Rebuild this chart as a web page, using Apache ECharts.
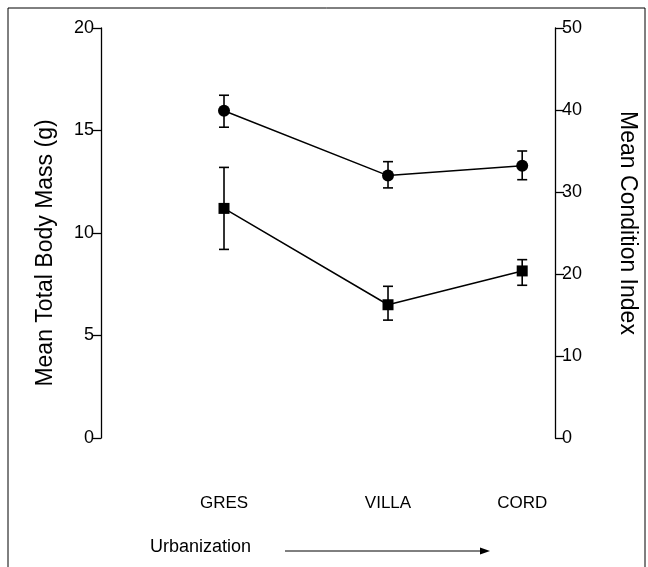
<!DOCTYPE html>
<html>
<head>
    <meta charset="UTF-8">
    <title></title>
    <style type="text/css">
        body { margin: 0; background: #fff; }
    </style>
</head>
<body>
<div id='mychart' style="width: 648px;height:567px;"></div>
<script src='https://cdn.jsdelivr.net/npm/echarts@6/dist/echarts.min.js'></script>
<script>
    // sites along the urbanization gradient
    var sites = ['GRES', 'VILLA', 'CORD'];
    var sitePos = [1, 2.1, 3];

    // mean total body mass (g), with error bar ends
    var massMean = [11.2, 6.5, 8.15];
    var massLow = [9.2, 5.75, 7.45];
    var massHigh = [13.2, 7.4, 8.7];

    // mean condition index, with error bar ends
    var condMean = [39.9, 32.0, 33.2];
    var condLow = [37.9, 30.5, 31.5];
    var condHigh = [41.8, 33.7, 35.0];

    var font = 'Liberation Sans, Arial, sans-serif';

    function pts(means) {
        var res = [];
        for (var i = 0; i < sites.length; i++) res.push([sitePos[i], means[i]]);
        return res;
    }
    function bars(low, high) {
        var res = [];
        for (var i = 0; i < sites.length; i++) res.push([sitePos[i], low[i], high[i]]);
        return res;
    }

    // vertical error bar with small caps
    function renderBar(params, api) {
        var top = api.coord([api.value(0), api.value(2)]);
        var bot = api.coord([api.value(0), api.value(1)]);
        var w = 5;
        var st = {stroke: '#000', lineWidth: 1.6};
        return {
            type: 'group',
            children: [
                {type: 'line', shape: {x1: top[0], y1: top[1], x2: bot[0], y2: bot[1]}, style: st},
                {type: 'line', shape: {x1: top[0] - w, y1: top[1], x2: top[0] + w, y2: top[1]}, style: st},
                {type: 'line', shape: {x1: bot[0] - w, y1: bot[1], x2: bot[0] + w, y2: bot[1]}, style: st}
            ]
        };
    }

    var myChart = echarts.init(document.getElementById('mychart'));

    var yBase = {
        type: 'value',
        splitLine: {show: false},
        axisLine: {show: true, lineStyle: {color: '#000', width: 1.3}},
        axisTick: {show: true, inside: false, length: 9, lineStyle: {color: '#000', width: 1.3}},
        axisLabel: {color: '#000', fontSize: 18, fontFamily: font, margin: 7},
        nameLocation: 'middle',
        nameTextStyle: {color: '#000', fontSize: 23, fontFamily: font}
    };

    var option = {
        animation: false,
        grid: {left: 101, right: 93, top: 28, bottom: 129},
        xAxis: {
            type: 'value',
            min: 0.175,
            max: 3.22,
            axisLine: {show: false},
            axisTick: {show: false},
            splitLine: {show: false},
            axisLabel: {
                customValues: sitePos,
                color: '#000', fontSize: 17, fontFamily: font, margin: 57,
                formatter: function (v) {
                    var i = sitePos.indexOf(v);
                    return i >= 0 ? sites[i] : '';
                }
            }
        },
        yAxis: [
            echarts.util.merge({
                position: 'left', min: 0, max: 20, interval: 5,
                name: 'Mean Total Body Mass (g)', nameGap: 44,
                nameTextStyle: {padding: [0, 40, 0, 0]}
            }, yBase, false),
            echarts.util.merge({
                position: 'right', min: 0, max: 50, interval: 10,
                name: 'Mean Condition Index', nameGap: 61, nameRotate: -90,
                nameTextStyle: {padding: [0, 20, 0, 0]}
            }, yBase, false)
        ],
        graphic: [
            {type: 'rect', shape: {x: 8, y: 8, width: 637, height: 575},
                style: {fill: 'none', stroke: '#000', lineWidth: 1}},
            {type: 'text', left: 150, top: 538,
                style: {text: 'Urbanization', fill: '#000', fontSize: 18, fontFamily: font}},
            {type: 'line', shape: {x1: 285, y1: 551, x2: 482, y2: 551},
                style: {stroke: '#000', lineWidth: 1}},
            {type: 'polygon', shape: {points: [[490, 551], [480, 547.5], [480, 554.5]]},
                style: {fill: '#000'}}
        ],
        series: [
            {
                name: 'mass', type: 'line', yAxisIndex: 0, data: pts(massMean),
                symbol: 'rect', symbolSize: 11,
                itemStyle: {color: '#000'}, lineStyle: {color: '#000', width: 1.5}, z: 3
            },
            {
                name: 'mass err', type: 'custom', yAxisIndex: 0, data: bars(massLow, massHigh),
                renderItem: renderBar, z: 2
            },
            {
                name: 'cond', type: 'line', yAxisIndex: 1, data: pts(condMean),
                symbol: 'circle', symbolSize: 12,
                itemStyle: {color: '#000'}, lineStyle: {color: '#000', width: 1.5}, z: 3
            },
            {
                name: 'cond err', type: 'custom', yAxisIndex: 1, data: bars(condLow, condHigh),
                renderItem: renderBar, z: 2
            }
        ]
    };

    myChart.setOption(option);
</script>
</body>
</html>
